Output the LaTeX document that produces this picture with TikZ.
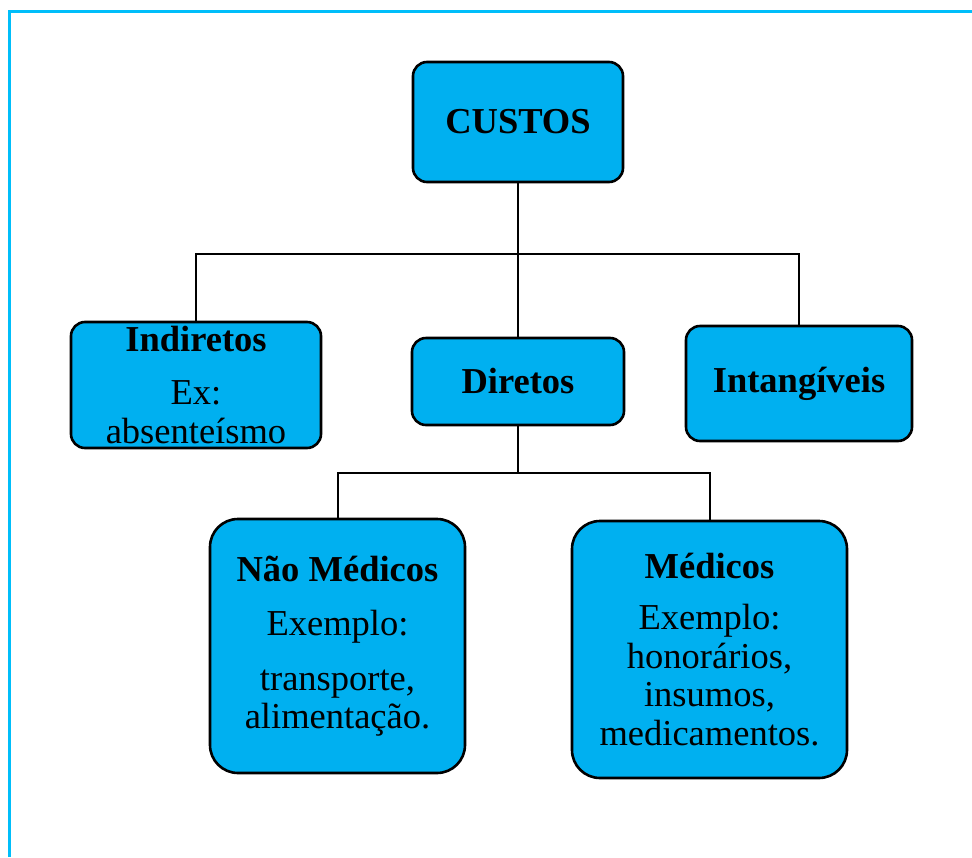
\documentclass[tikz,border=0pt]{standalone}
\usepackage{fontspec}
\setmainfont{Liberation Serif}
\usetikzlibrary{trees}
\definecolor{caixa}{RGB}{0,176,240}
\definecolor{moldura}{RGB}{0,190,250}

\begin{document}
\begin{tikzpicture}[x=1pt,y=1pt,level distance=261pt]
				\useasboundingbox (0,0) rectangle (972,-857);
				\draw[moldura,line width=3pt] (9,-857) -- (9,-11) -- (972,-11);
				\tikzstyle{every node}=[draw=black,line width=2.6pt,fill=caixa,rounded corners=14pt,
				align=center,inner sep=0pt,font=\fontsize{36.5}{38.5}\selectfont]
				\tikzstyle{edge from parent}=[draw,line width=2pt]
				\tikzstyle{level 1}=[sibling distance=300pt,
				edge from parent path={(\tikzparentnode.south) -- ++(0,-71) -| (\tikzchildnode.north)}]
				\tikzstyle{level 2}=[sibling distance=372pt,level distance=264.5pt,
				edge from parent path={(\tikzparentnode.south) -- ++(0,-47) -| (\tikzchildnode.north)}]
				\node[minimum width=210pt,minimum height=120pt] (custos) at (518,-122) {\textbf{CUSTOS}}
				child[xshift=-22pt,yshift=-2pt] {node[minimum width=250pt,minimum height=126pt] (indiretos)
					{\textbf{Indiretos}\\[15pt] Ex:\\ absenteísmo}}
				child[yshift=1.5pt] {node[minimum width=212pt,minimum height=87pt] (diretos) {\textbf{Diretos}}
					child[xshift=5.5pt] {node[minimum width=255pt,minimum height=254pt,rounded corners=28pt] (naomedicos)
						{\textbf{Não Médicos}\\[16pt] Exemplo:\\[16pt] transporte,\\ alimentação.}}
					child[xshift=5.5pt,yshift=-3.5pt] {node[minimum width=275pt,minimum height=257pt,rounded corners=28pt] (medicos)
						{\textbf{Médicos}\\[13pt] Exemplo:\\ honorários,\\ insumos,\\ medicamentos.}}
				}
				child[xshift=-19pt,yshift=-0.5pt] {node[minimum width=226pt,minimum height=115pt] (intangiveis)
					{\textbf{Intangíveis}}};
\end{tikzpicture}
\end{document}
